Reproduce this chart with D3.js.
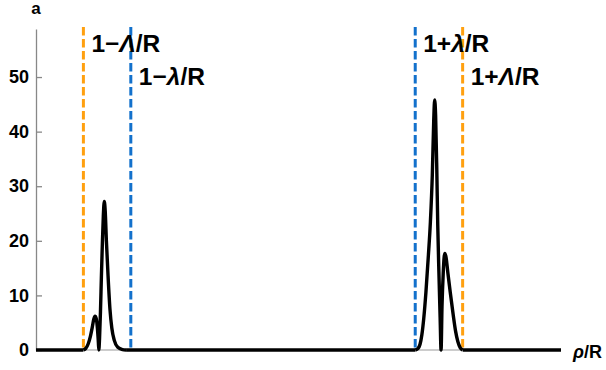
<!DOCTYPE html>
<html>
<head>
<meta charset="utf-8">
<script src="https://cdn.jsdelivr.net/npm/d3@7"></script>
<style>
  body { margin: 0; background: #fff; }
  svg { display: block; font-family: Arial, 'Liberation Sans', sans-serif; }
</style>
</head>
<body>
<div id="wrapper"></div>
<script>
const W = 606, H = 370;

// rho/R positions and heights
const leftRho = [0.200, 0.210, 0.220, 0.230, 0.238, 0.244, 0.249, 0.254, 0.259, 0.263, 0.265,
                 0.268, 0.272, 0.276, 0.280, 0.284, 0.288, 0.292, 0.297, 0.304, 0.312, 0.320,
                 0.330, 0.345, 0.365, 0.380];
const leftVal = [0, 0.3, 1.1, 2.6, 4.3, 5.7, 6.2, 5.8, 4.0, 1.5, 0,
                 2, 7, 13.6, 19.5, 24.5, 27.2, 25.5, 20, 13.6, 7.5, 4,
                 1.8, 0.5, 0.08, 0];
const rightRho = [1.600, 1.612, 1.620, 1.628, 1.636, 1.645, 1.655, 1.664, 1.672, 1.678, 1.682,
                  1.686, 1.691, 1.695, 1.700, 1.705, 1.709, 1.713, 1.718, 1.722, 1.725, 1.730,
                  1.738, 1.748, 1.760, 1.770, 1.780, 1.790, 1.800];
const rightVal = [0, 0.3, 1.0, 2.8, 5.8, 10.5, 17, 23.5, 32, 42, 45.8,
                  43, 33, 22.9, 14, 6, 0, 8, 14, 17, 17.7, 17,
                  14, 10.5, 6.5, 3.5, 1.5, 0.4, 0];

const yTicks = [0, 10, 20, 30, 40, 50];

// reference lines: 1 -/+ Lambda/R (orange), 1 -/+ lambda/R (blue)
const refLines = [
  { x: 0.2, color: '#ffa010' },
  { x: 0.4, color: '#1371cc' },
  { x: 1.6, color: '#1371cc' },
  { x: 1.8, color: '#ffa010' }
];
const refLabels = [
  { x: 0.2, sign: '1\u2212', greek: '\u039B', row: 0 },
  { x: 0.4, sign: '1\u2212', greek: '\u03BB', row: 1 },
  { x: 1.6, sign: '1+', greek: '\u03BB', row: 0 },
  { x: 1.8, sign: '1+', greek: '\u039B', row: 1 }
];

const svg = d3.select('#wrapper').append('svg').attr('width', W).attr('height', H);

const x = d3.scaleLinear().domain([0, 2.215]).range([36, 561]);
const y = d3.scaleLinear().domain([0, 58.8]).range([350, 29]);

// axes
const yAxis = svg.append('g').attr('transform', `translate(${x(0)},0)`)
  .call(d3.axisLeft(y).tickValues(yTicks).tickSize(-6).tickPadding(8).tickSizeOuter(0));
yAxis.select('.domain').attr('stroke', '#888').attr('stroke-width', 1.3);
yAxis.selectAll('.tick line').attr('stroke', '#888').attr('stroke-width', 1.3);
yAxis.selectAll('.tick text').attr('font-size', 18).attr('font-weight', 'bold')
  .attr('fill', '#000').attr('x', -7);

svg.append('line')
  .attr('x1', x(0)).attr('x2', x(2.215)).attr('y1', y(0)).attr('y2', y(0))
  .attr('stroke', '#999').attr('stroke-width', 1.2);

// dashed reference lines
svg.selectAll('line.ref').data(refLines).join('line')
  .attr('class', 'ref')
  .attr('x1', d => x(d.x)).attr('x2', d => x(d.x))
  .attr('y1', 27).attr('y2', y(0))
  .attr('stroke', d => d.color).attr('stroke-width', 3)
  .attr('stroke-dasharray', '8.5,3.5');

// curve
const line = d3.line().x(d => x(d[0])).y(d => y(d[1])).curve(d3.curveMonotoneX);
const zeroLine = (a, b) => [[a, 0], [b, 0]];
const segs = [
  zeroLine(0, 0.2),
  d3.zip(leftRho, leftVal),
  zeroLine(0.38, 1.6),
  d3.zip(rightRho, rightVal),
  zeroLine(1.8, 2.215)
];
svg.selectAll('path.curve').data(segs).join('path')
  .attr('class', 'curve')
  .attr('d', line)
  .attr('fill', 'none').attr('stroke', '#000').attr('stroke-width', 3.4)
  .attr('stroke-linejoin', 'round');

// labels
const lab = svg.selectAll('text.lab').data(refLabels).join('text')
  .attr('class', 'lab')
  .attr('x', d => x(d.x) + 8)
  .attr('y', d => d.row === 0 ? 52 : 85)
  .attr('font-size', 24.5).attr('font-weight', 'bold').attr('fill', '#000');
lab.append('tspan').text(d => d.sign);
lab.append('tspan').attr('font-style', 'italic').text(d => d.greek);
lab.append('tspan').text('/R');

svg.append('text').attr('x', x(0)).attr('y', 14).attr('text-anchor', 'middle')
  .attr('font-size', 17).attr('font-weight', 'bold').text('a');

const xl = svg.append('text').attr('x', 573).attr('y', 358)
  .attr('font-size', 18).attr('font-weight', 'bold');
xl.append('tspan').attr('font-style', 'italic').text('\u03C1');
xl.append('tspan').text('/R');
</script>
</body>
</html>
